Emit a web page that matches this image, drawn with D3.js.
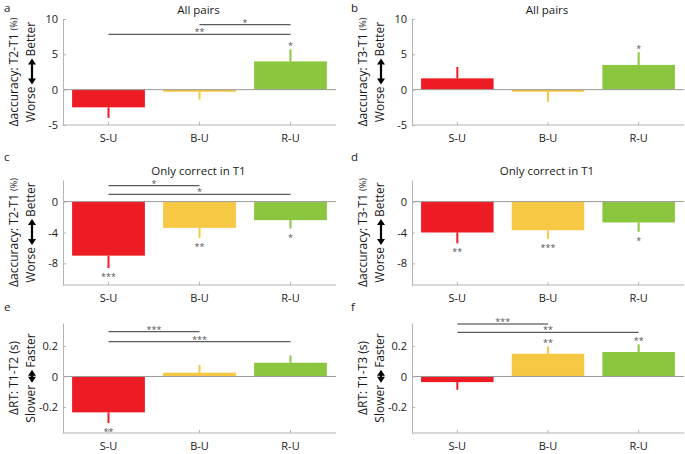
<!DOCTYPE html>
<html><head><meta charset="utf-8">
<script src="https://cdn.jsdelivr.net/npm/d3@7"></script>
<style>
html,body{margin:0;padding:0;background:#fff;}
svg{display:block;font-family:"Open Sans",sans-serif;}
</style></head>
<body><svg id="chart" width="685" height="454"></svg>
<script>
// ---------------- data ----------------
const categories = ["S-U", "B-U", "R-U"];

const meanA = [-2.5, -0.3, 4.0],   semA = [1.5, 1.1, 1.7],   starsA = ["", "", "*"];
const meanB = [1.6, -0.3, 3.5],    semB = [1.6, 1.4, 1.8],   starsB = ["", "", "*"];
const meanC = [-7.0, -3.4, -2.4],  semC = [1.6, 1.3, 1.1],   starsC = ["***", "**", "*"];
const meanD = [-4.0, -3.7, -2.7],  semD = [1.4, 1.1, 1.2],   starsD = ["**", "***", "*"];
const meanE = [-0.235, 0.025, 0.09], semE = [0.07, 0.05, 0.048], starsE = ["**", "", ""];
const meanF = [-0.037, 0.149, 0.16], semF = [0.05, 0.048, 0.05], starsF = ["", "**", "**"];

const pairsA = [[1, 2, "*"], [0, 2, "**"]];
const pairsB = [];
const pairsC = [[0, 1, "*"], [0, 2, "*"]];
const pairsD = [];
const pairsE = [[0, 1, "***"], [0, 2, "***"]];
const pairsF = [[0, 1, "***"], [0, 2, "**"]];

const titles = ["All pairs", "All pairs", "Only correct in T1", "Only correct in T1", "", ""];
const letters = ["a", "b", "c", "d", "e", "f"];
const yLabels = ["\u0394accuracy: T2-T1", "\u0394accuracy: T3-T1", "\u0394accuracy: T2-T1", "\u0394accuracy: T3-T1", "\u0394RT: T1-T2", "\u0394RT: T1-T3"];
const yUnits = ["(%)", "(%)", "(%)", "(%)", "(s)", "(s)"];
const dirLow = ["Worse", "Worse", "Worse", "Worse", "Slower", "Slower"];
const dirHigh = ["Better", "Better", "Better", "Better", "Faster", "Faster"];
const yTicksAcc = [-5, 0, 5, 10];
const yTicksCorr = [-8, -4, 0];
const yTicksRT = [-0.2, 0, 0.2];
const yDomAcc = [-5, 10];
const yDomCorr = [-10.8, 2.8];
const yDomRT = [-0.37, 0.35];

// ---------------- layout / style ----------------
const colors = ["#ED1C24", "#F6C843", "#8CC63F"];
const cols = [{x0: 63, x1: 336, lab1: 15, lab2: 32, letterX: 4},
              {x0: 412, x1: 684, lab1: 364, lab2: 381, letterX: 351}];
const rows = [{y0: 19, y1: 125, titleY: 14, letterY: 12, bracketY: [24.7, 34.3], dom: yDomAcc, ticks: yTicksAcc, unitSmall: true, arrowLen: 26},
              {y0: 180, y1: 285, titleY: 175, letterY: 161, bracketY: [185.7, 194.3], dom: yDomCorr, ticks: yTicksCorr, unitSmall: true, arrowLen: 26},
              {y0: 323, y1: 433, titleY: 0, letterY: 311, bracketY: [331.7, 341.7], dom: yDomRT, ticks: yTicksRT, unitSmall: false, arrowLen: 13}];
const bracketYF = [324, 332.3];
const starSize = 9;

const panelData = [
  [meanA, semA, starsA, pairsA], [meanB, semB, starsB, pairsB],
  [meanC, semC, starsC, pairsC], [meanD, semD, starsD, pairsD],
  [meanE, semE, starsE, pairsE], [meanF, semF, starsF, pairsF]
];

const svg = d3.select("#chart");

function drawArrow(g, cx, len, headL, headW, shaft) {
  const h = len / 2;
  const p = d3.path();
  p.moveTo(cx - h, 0);
  p.lineTo(cx - h + headL, -headW / 2);
  p.lineTo(cx - h + headL, -shaft / 2);
  p.lineTo(cx + h - headL, -shaft / 2);
  p.lineTo(cx + h - headL, -headW / 2);
  p.lineTo(cx + h, 0);
  p.lineTo(cx + h - headL, headW / 2);
  p.lineTo(cx + h - headL, shaft / 2);
  p.lineTo(cx - h + headL, shaft / 2);
  p.lineTo(cx - h + headL, headW / 2);
  p.closePath();
  g.append("path").attr("d", p.toString()).attr("fill", "#000");
}

panelData.forEach((pd, i) => {
  const [means, sems, stars, pairs] = pd;
  const c = cols[i % 2], r = rows[Math.floor(i / 2)];
  const bracketY = i === 5 ? bracketYF : r.bracketY;
  const g = svg.append("g");

  const x = d3.scaleBand().domain(categories).range([c.x0, c.x1]).paddingInner(0.2).paddingOuter(0.1);
  const y = d3.scaleLinear().domain(r.dom).range([r.y1, r.y0]);

  g.selectAll("rect.bar").data(categories).join("rect")
    .attr("x", d => x(d))
    .attr("width", x.bandwidth())
    .attr("y", (d, k) => Math.min(y(means[k]), y(0)))
    .attr("height", (d, k) => Math.abs(y(means[k]) - y(0)))
    .attr("fill", (d, k) => colors[k]);

  g.selectAll("line.err").data(categories).join("line")
    .attr("x1", d => x(d) + x.bandwidth() / 2)
    .attr("x2", d => x(d) + x.bandwidth() / 2)
    .attr("y1", (d, k) => y(means[k]))
    .attr("y2", (d, k) => y(means[k] + Math.sign(means[k]) * sems[k]))
    .attr("stroke", (d, k) => colors[k]).attr("stroke-width", 2);

  g.append("line").attr("x1", c.x0).attr("x2", c.x1).attr("y1", y(0)).attr("y2", y(0))
    .attr("stroke", "#9a9a9a").attr("stroke-width", 1);

  const ya = g.append("g").attr("transform", `translate(${c.x0},0)`)
    .call(d3.axisLeft(y).tickValues(r.ticks).tickSizeInner(-3).tickSizeOuter(0).tickPadding(5).tickFormat(d => String(d)));
  const xa = g.append("g").attr("transform", `translate(0,${r.y1})`)
    .call(d3.axisBottom(x).tickSizeInner(-3).tickSizeOuter(0).tickPadding(9));
  [ya, xa].forEach(a => {
    a.select(".domain").attr("stroke", "#b4b4b4");
    a.selectAll(".tick line").attr("stroke", "#b4b4b4");
    a.selectAll("text").attr("font-size", 11).attr("fill", "#1a1a1a").attr("font-family", "Open Sans");
  });
  xa.select(".domain").attr("d", `M${c.x0},0H${c.x1}`);

  g.selectAll("text.star").data(categories).join("text")
    .attr("x", d => x(d) + x.bandwidth() / 2)
    .attr("y", (d, k) => {
      const end = y(means[k] + Math.sign(means[k]) * sems[k]);
      return means[k] >= 0 ? end - 0.5 : end + 12;
    })
    .attr("text-anchor", "middle").attr("font-size", starSize).attr("fill", "#555")
    .text((d, k) => stars[k]);

  pairs.forEach((p, k) => {
    const xa1 = x(categories[p[0]]) + x.bandwidth() / 2;
    const xa2 = x(categories[p[1]]) + x.bandwidth() / 2;
    const by = bracketY[k];
    g.append("line").attr("x1", xa1).attr("x2", xa2).attr("y1", by).attr("y2", by)
      .attr("stroke", "#333").attr("stroke-width", 1);
    g.append("text").attr("x", (xa1 + xa2) / 2).attr("y", by + 1)
      .attr("text-anchor", "middle").attr("font-size", starSize).attr("fill", "#555").text(p[2]);
  });

  if (titles[i]) {
    g.append("text").attr("x", (c.x0 + c.x1) / 2 - 1).attr("y", r.titleY)
      .attr("text-anchor", "middle").attr("font-size", 11.5).attr("fill", "#1a1a1a").text(titles[i]);
  }
  g.append("text").attr("x", c.letterX).attr("y", r.letterY).attr("font-size", 11.5).attr("fill", "#1a1a1a").text(letters[i]);

  const cy = (r.y0 + r.y1) / 2;
  const l1 = g.append("text").attr("transform", `translate(${c.lab1},${cy}) rotate(-90)`)
    .attr("text-anchor", "middle").attr("dominant-baseline", "middle")
    .attr("font-size", 12).attr("fill", "#1a1a1a");
  l1.append("tspan").text(yLabels[i] + " ");
  l1.append("tspan").attr("font-size", r.unitSmall ? 9 : 12).text(yUnits[i]);

  const l2 = g.append("g").attr("transform", `translate(${c.lab2},${cy}) rotate(-90)`);
  const tLow = l2.append("text").attr("dominant-baseline", "middle").attr("font-size", 12).attr("fill", "#1a1a1a").text(dirLow[i]);
  const tHigh = l2.append("text").attr("dominant-baseline", "middle").attr("font-size", 12).attr("fill", "#1a1a1a").text(dirHigh[i]);
  const wLow = tLow.node().getComputedTextLength();
  const wHigh = tHigh.node().getComputedTextLength();
  const gap = 2, aL = r.arrowLen;
  const total = wLow + gap + aL + gap + wHigh;
  const start = -total / 2;
  tLow.attr("x", start);
  const aCx = start + wLow + gap + aL / 2;
  drawArrow(l2, aCx, aL, 6, 8, 2.2);
  tHigh.attr("x", start + wLow + gap + aL + gap);
});
</script>
</body></html>
